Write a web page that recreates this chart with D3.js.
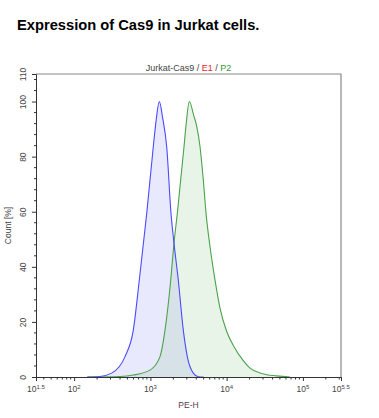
<!DOCTYPE html>
<html><head><meta charset="utf-8">
<script src="https://cdn.jsdelivr.net/npm/d3@7"></script>
<style>body{margin:0;background:#fff;}svg{display:block;font-family:"Liberation Sans",Arial,sans-serif;}</style>
</head><body><svg id="c" width="379" height="418"></svg>
<script>
const blueX = [150, 218, 311, 465, 597, 716, 896, 1092, 1200, 1309, 1450, 1637, 1864, 2040, 2323, 2702, 3050, 3655, 4254, 5000];
const blueY = [0, 0.2, 1.4, 7.4, 17, 35.2, 59.4, 83.6, 94, 100, 94, 83.6, 59.4, 48.6, 35.2, 17, 7.4, 1.4, 0.1, 0];
const greenX = [148, 400, 597, 989, 1337, 1556, 1849, 2040, 2256, 2761, 2950, 3241, 3700, 4057, 4480, 4946, 5370, 6057, 7046, 8188, 10020, 12500, 16250, 20260, 28860, 45380, 67800];
const greenY = [0, 0.2, 0.7, 2.5, 7.4, 17, 35.2, 48.6, 59.4, 83.6, 92, 100, 95, 91, 83.6, 71.5, 59.4, 47.3, 35.2, 25, 16.5, 11, 6.2, 3.2, 1.3, 0.4, 0];
const yTicks = [0, 20, 40, 60, 80, 100, 110];
const xTickExp = ["1.5", "2", "3", "4", "5", "5.5"];

const svg = d3.select("#c");
const L = 36, R = 341, T = 74, B = 377;
const x = d3.scaleLog().domain([Math.pow(10,1.5), Math.pow(10,5.5)]).range([L, R]);
const y = d3.scaleLinear().domain([0, 110]).range([B, T]);

svg.append("text").attr("x", 17).attr("y", 30).attr("font-size", 14.7).attr("font-weight", "bold")
  .attr("fill", "#000").text("Expression of Cas9 in Jurkat cells.");

const st = svg.append("text").attr("x", (L+R)/2).attr("y", 71).attr("text-anchor", "middle").attr("font-size", 9);
st.append("tspan").attr("fill", "#444").text("Jurkat-Cas9 / ");
st.append("tspan").attr("fill", "#e8242b").text("E1");
st.append("tspan").attr("fill", "#444").text(" / ");
st.append("tspan").attr("fill", "#2f9a3a").text("P2");

const area = d3.area().x(d => x(d[0])).y0(y(0)).y1(d => y(d[1])).curve(d3.curveMonotoneX);
const line = d3.line().x(d => x(d[0])).y(d => y(d[1])).curve(d3.curveMonotoneX);
const blue = blueX.map((v,i) => [v, blueY[i]]);
const green = greenX.map((v,i) => [v, greenY[i]]);

svg.append("path").datum(blue).attr("d", area).attr("fill", "rgb(110,110,245)").attr("fill-opacity", 0.15);
svg.append("path").datum(green).attr("d", area).attr("fill", "rgb(110,180,110)").attr("fill-opacity", 0.15);
svg.append("path").datum(green).attr("d", line).attr("fill", "none").attr("stroke", "#4aa24a").attr("stroke-width", 1.1);
svg.append("path").datum(blue).attr("d", line).attr("fill", "none").attr("stroke", "#4a4aff").attr("stroke-width", 1.1);

// frame
svg.append("path").attr("d", `M${L},${T}H${R}V${B}`).attr("fill", "none").attr("stroke", "#888").attr("stroke-width", 1.2);

// y axis
const yAxis = d3.axisLeft(y).tickValues(yTicks).tickSize(4).tickFormat(d3.format("d"));
const gy = svg.append("g").attr("transform", `translate(${L},0)`).call(yAxis);
gy.select(".domain").attr("stroke", "#333");
gy.selectAll(".tick line").attr("stroke", "#333");
gy.selectAll(".tick text").attr("font-size", 8.5).attr("fill", "#444").attr("text-anchor", "middle")
  .attr("x", 0).attr("y", 0).attr("dy", "0.35em").attr("transform", "translate(-13,0) rotate(-90)");
const minorY = d3.range(0, 109, 4).filter(v => v % 20 !== 0);
svg.append("g").selectAll("line").data(minorY).join("line")
  .attr("x1", L-2).attr("x2", L).attr("y1", d => y(d)).attr("y2", d => y(d)).attr("stroke", "#333");
svg.append("text").attr("transform", `translate(11,${(T+B)/2}) rotate(-90)`).attr("text-anchor", "middle")
  .attr("font-size", 8.5).attr("fill", "#444").text("Count [%]");

// x axis
const xMajor = xTickExp.map(e => Math.pow(10, +e));
const xAxis = d3.axisBottom(x).tickValues(xMajor).tickSize(4).tickFormat("");
const gx = svg.append("g").attr("transform", `translate(0,${B})`).call(xAxis);
gx.select(".domain").attr("stroke", "#333");
gx.selectAll(".tick line").attr("stroke", "#333");
const minorX = [];
for (let e = 1; e <= 5; e++) for (let m = 2; m <= 9; m++) { const v = m*Math.pow(10,e); if (v > x.domain()[0] && v < x.domain()[1]) minorX.push(v); }
svg.append("g").selectAll("line").data(minorX).join("line")
  .attr("x1", d => x(d)).attr("x2", d => x(d)).attr("y1", B).attr("y2", B+2.5).attr("stroke", "#333");
xTickExp.forEach((e, i) => {
  const t = svg.append("text").attr("x", x(xMajor[i])).attr("y", 392).attr("text-anchor", "middle")
    .attr("font-size", 8.5).attr("fill", "#444");
  t.append("tspan").text("10");
  t.append("tspan").attr("font-size", 6).attr("dy", -3.5).text(e);
});
svg.append("text").attr("x", (L+R)/2).attr("y", 408).attr("text-anchor", "middle")
  .attr("font-size", 8.5).attr("fill", "#5a3a55").text("PE-H");
</script></body></html>
